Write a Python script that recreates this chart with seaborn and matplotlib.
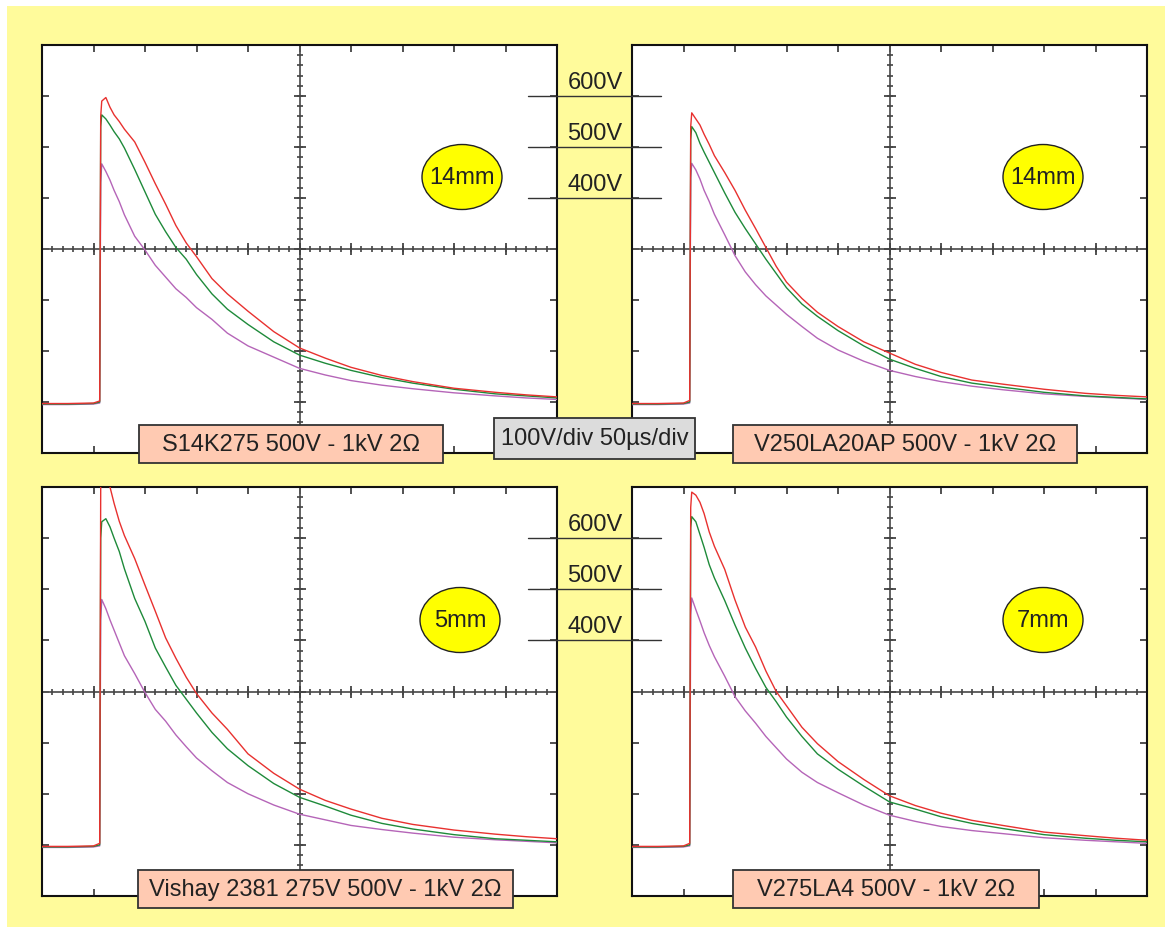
import numpy as np
import pandas as pd
import matplotlib
matplotlib.use("Agg")
import matplotlib.pyplot as plt
import matplotlib.transforms as mtransforms
from matplotlib.patches import Rectangle, Ellipse
from matplotlib.lines import Line2D
import seaborn as sns

# =============================================================================
# DATA (read off the scope shots: time in us, voltage in V)
# =============================================================================
time_us = [0, 25, 50, 56, 57, 58, 62, 66, 70, 75, 80, 90, 100, 110, 120, 130,
           140, 150, 165, 180, 200, 225, 250, 275, 300, 330, 360, 400, 440, 470, 500]

s14k_red = [-3, -3, -2, 2, 560, 590, 597, 578, 563, 550, 535, 510, 470, 428, 388, 346,
            312, 285, 242, 212, 178, 138, 106, 86, 68, 52, 40, 27, 19, 14, 10]
s14k_green = [-4, -4, -3, 0, 540, 563, 555, 543, 530, 516, 498, 456, 412, 368, 334, 303,
              280, 250, 212, 182, 152, 118, 92, 76, 62, 48, 37, 25, 16, 12, 8]
s14k_purple = [-5, -5, -4, -2, 430, 467, 452, 435, 415, 393, 367, 325, 298, 268, 245, 222,
               205, 185, 162, 135, 110, 88, 66, 53, 42, 33, 26, 18, 12, 8, 5]

v250_red = [-3, -3, -2, 3, 540, 567, 555, 543, 525, 505, 483, 450, 415, 376, 340, 303,
            266, 235, 203, 176, 148, 118, 96, 74, 58, 43, 35, 25, 17, 13, 10]
v250_green = [-4, -4, -3, 0, 515, 540, 528, 507, 490, 470, 450, 410, 372, 340, 310, 280,
              252, 224, 192, 168, 140, 110, 84, 66, 50, 37, 29, 19, 12, 9, 6]
v250_purple = [-5, -5, -4, -2, 440, 468, 455, 437, 415, 393, 368, 328, 287, 255, 230, 208,
               190, 172, 148, 125, 102, 80, 62, 50, 40, 31, 24, 16, 11, 8, 5]

vishay_red = [-3, -3, -2, 3, 700, 735, 740, 700, 668, 633, 605, 560, 508, 457, 405, 365,
              328, 296, 258, 226, 178, 140, 109, 87, 70, 52, 40, 29, 21, 16, 12]
vishay_green = [-4, -4, -3, 0, 600, 632, 638, 622, 600, 574, 540, 482, 437, 385, 348, 312,
                285, 258, 220, 188, 155, 120, 93, 76, 58, 42, 31, 20, 12, 9, 6]
vishay_purple = [-5, -5, -4, -2, 440, 480, 462, 440, 420, 395, 370, 335, 298, 265, 242, 215,
                 192, 170, 145, 122, 100, 78, 60, 49, 38, 30, 23, 15, 10, 7, 4]

v275_red = [-3, -3, -2, 3, 660, 690, 684, 670, 648, 612, 584, 539, 479, 426, 387, 340,
            300, 272, 230, 198, 163, 128, 96, 77, 62, 48, 38, 25, 18, 13, 9]
v275_green = [-4, -4, -3, 0, 620, 642, 632, 607, 582, 548, 522, 478, 430, 385, 345, 308,
              280, 250, 212, 178, 148, 115, 84, 70, 55, 42, 32, 20, 13, 9, 6]
v275_purple = [-5, -5, -4, -2, 450, 483, 460, 438, 415, 390, 368, 330, 290, 262, 238, 212,
               190, 168, 142, 122, 102, 78, 58, 46, 36, 28, 22, 14, 9, 6, 3]

panel_titles = ["S14K275 500V - 1kV 2\u03a9", "V250LA20AP 500V - 1kV 2\u03a9",
                "Vishay 2381 275V 500V - 1kV 2\u03a9", "V275LA4 500V - 1kV 2\u03a9"]
panel_sizes = ["14mm", "14mm", "5mm", "7mm"]
scale_levels = [600, 500, 400]
scale_text = "100V/div 50\u00b5s/div"

traces = [
    (s14k_red, s14k_green, s14k_purple),
    (v250_red, v250_green, v250_purple),
    (vishay_red, vishay_green, vishay_purple),
    (v275_red, v275_green, v275_purple),
]

# =============================================================================
# LAYOUT (pixels)
# =============================================================================
W, H = 1171, 928
panel_px = [(42, 46, 557, 454), (632, 46, 1147, 454),
            (42, 488, 557, 897), (632, 488, 1147, 897)]
title_px = [(139, 426, 443, 464), (733, 426, 1077, 464),
            (138, 871, 513, 909), (733, 871, 1039, 909)]
ellipse_px = [(462, 178), (1043, 178), (460, 621), (1043, 621)]
scale_box_px = (494, 419, 695, 460)

COLORS = {"red": "#e8312f", "green": "#1e8a3a", "purple": "#b565b8"}
YELLOW_BG = "#fffb9b"
FS = 17

sns.set_theme(style="white")
plt.rcParams["font.family"] = ["Liberation Sans", "DejaVu Sans"]

fig = plt.figure(figsize=(W / 100, H / 100), dpi=100, facecolor="white")


def fx(x):
    return x / W


def fy(y):
    return 1 - y / H


# yellow backdrop
fig.add_artist(Rectangle((fx(7), 0), fx(1165) - fx(7), fy(7), transform=fig.transFigure,
                         facecolor=YELLOW_BG, edgecolor="none", zorder=-10))

axes = []
for i, (x0, y0, x1, y1) in enumerate(panel_px):
    ax = fig.add_axes([fx(x0), fy(y1), fx(x1) - fx(x0), fy(y0) - fy(y1)])
    axes.append(ax)
    red, green, purple = traces[i]
    df = pd.DataFrame({
        "t": time_us * 3,
        "v": purple + green + red,
        "trace": ["purple"] * len(time_us) + ["green"] * len(time_us) + ["red"] * len(time_us),
    })
    sns.lineplot(data=df, x="t", y="v", hue="trace", hue_order=["purple", "green", "red"],
                 palette=COLORS, estimator=None, sort=False, legend=False,
                 linewidth=1.0, ax=ax, zorder=3)

    ax.set_xlim(0, 500)
    ax.set_ylim(-100, 700)
    ax.set_facecolor("white")
    ax.set_xlabel("")
    ax.set_ylabel("")

    # border ticks (one per division)
    ax.set_xticks(np.arange(0, 501, 50))
    ax.set_yticks(np.arange(-100, 701, 100))
    ax.tick_params(direction="in", length=5, width=1.2, color="#333333",
                   bottom=True, top=True, left=True, right=True,
                   labelbottom=False, labelleft=False)
    for sp in ax.spines.values():
        sp.set_color("#111111")
        sp.set_linewidth(1.5)

    # centre graticule with sub-division marks
    ax.axhline(300, color="#555555", lw=1.3, zorder=2)
    ax.axvline(250, color="#555555", lw=1.3, zorder=2)
    t_minor = np.arange(0, 501, 10)
    t_major = np.arange(0, 501, 50)
    v_minor = np.arange(-100, 701, 20)
    v_major = np.arange(-100, 701, 100)
    ax.plot(t_minor, np.full(len(t_minor), 300), ls="none", marker="|", ms=5, mew=1.2, color="#444444", zorder=2)
    ax.plot(t_major, np.full(len(t_major), 300), ls="none", marker="|", ms=9, mew=1.3, color="#444444", zorder=2)
    ax.plot(np.full(len(v_minor), 250), v_minor, ls="none", marker="_", ms=5, mew=1.2, color="#444444", zorder=2)
    ax.plot(np.full(len(v_major), 250), v_major, ls="none", marker="_", ms=9, mew=1.3, color="#444444", zorder=2)

    # device label box
    bx0, by0, bx1, by1 = title_px[i]
    fig.add_artist(Rectangle((fx(bx0), fy(by1)), fx(bx1) - fx(bx0), fy(by0) - fy(by1),
                             transform=fig.transFigure, facecolor="#ffcab2",
                             edgecolor="#333333", lw=1.3, zorder=5))
    fig.text(fx((bx0 + bx1) / 2), fy((by0 + by1) / 2), panel_titles[i], ha="center", va="center",
             fontsize=FS, color="#222222", zorder=6)

    # disc size bubble
    ex, ey = ellipse_px[i]
    fig.add_artist(Ellipse((fx(ex), fy(ey)), 80 / W, 65 / H, transform=fig.transFigure,
                           facecolor="#ffff00", edgecolor="#222222", lw=1.0, zorder=5))
    fig.text(fx(ex), fy(ey), panel_sizes[i], ha="center", va="center",
             fontsize=FS, color="#222222", zorder=6)

# voltage reference marks between the panels
for ax in (axes[0], axes[2]):
    blend = mtransforms.blended_transform_factory(fig.transFigure, ax.transData)
    txt_tr = mtransforms.offset_copy(blend, fig=fig, y=6, units="points")
    for lvl in scale_levels:
        fig.add_artist(Line2D([fx(528), fx(661)], [lvl, lvl], transform=blend,
                              color="#333333", lw=1.0, zorder=5))
        fig.text(fx(595), lvl, f"{lvl}V", transform=txt_tr, ha="center", va="baseline",
                 fontsize=FS, color="#222222", zorder=6)

# scale box
sx0, sy0, sx1, sy1 = scale_box_px
fig.add_artist(Rectangle((fx(sx0), fy(sy1)), fx(sx1) - fx(sx0), fy(sy0) - fy(sy1),
                         transform=fig.transFigure, facecolor="#dcdcdc",
                         edgecolor="#333333", lw=1.3, zorder=5))
fig.text(fx((sx0 + sx1) / 2), fy((sy0 + sy1) / 2), scale_text, ha="center", va="center",
         fontsize=FS, color="#222222", zorder=6)

fig.savefig("out.png", dpi=100, facecolor="white")
